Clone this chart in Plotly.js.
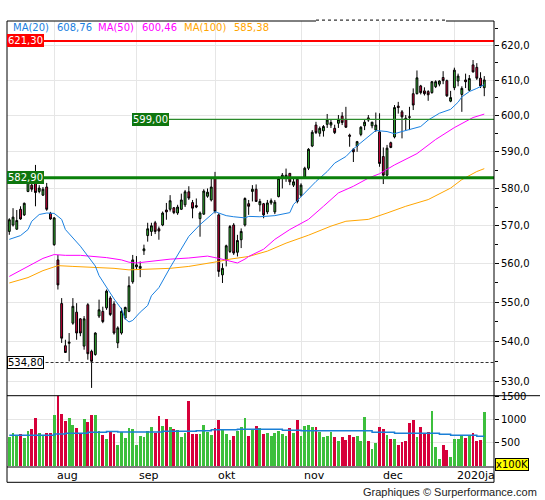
<!DOCTYPE html>
<html><head><meta charset="utf-8">
<script src="https://cdn.plot.ly/plotly-3.0.1.min.js"></script>
<style>html,body{margin:0;padding:0;background:#fff}#chart{width:545px;height:500px}</style>
</head><body><div id="chart"></div>
<script>
// ---- data (one entry per trading day) ----
const open = [568.5,570.2,569.1,574.4,572.9,579.2,580.9,581.8,579.2,578.2,580.4,573.3,565.0,561.0,549.7,539.0,539.6,544.7,547.5,545.8,
538.9,549.4,537.6,536.8,546.5,547.7,548.6,551.1,549.6,539.7,542.2,546.0,547.7,555.3,559.2,558.8,563.4,567.4,568.5,570.8,
569.2,570.2,574.2,574.4,574.8,573.4,574.4,575.6,579.1,576.2,575.4,571.9,573.1,577.9,576.9,582.7,572.9,557.1,561.0,563.2,
570.2,563.0,566.3,570.2,575.9,579.2,579.8,575.6,575.9,573.7,576.1,573.7,577.8,582.7,583.0,584.1,580.9,582.5,578.2,583.1,
585.5,591.6,597.4,595.1,595.8,597.6,597.4,596.5,597.9,599.9,599.0,594.6,590.7,591.6,594.8,597.2,599.4,597.2,596.0,595.5,
588.7,583.6,592.5,594.1,602.7,601.1,599.3,599.7,606.2,606.2,608.4,607.0,606.8,606.5,608.2,608.9,610.8,609.9,604.1,607.9,
609.8,606.0,610.1,607.2,614.4,613.7,610.6,607.9];
const high = [572.0,574.7,574.2,575.2,576.2,582.7,582.3,586.4,580.9,580.4,581.5,573.7,572.3,562.3,551.1,540.5,542.2,551.1,549.8,546.0,
546.5,549.8,538.0,542.4,550.7,548.9,553.3,551.6,550.3,543.9,548.6,548.9,556.7,562.3,562.0,560.6,565.0,570.8,570.8,571.3,
569.8,573.8,576.1,578.2,575.0,575.6,578.6,579.6,580.6,576.9,577.3,573.8,579.8,580.0,582.7,584.5,573.3,560.1,565.0,570.2,
570.7,567.6,569.3,577.6,576.9,580.9,581.1,577.2,576.1,576.9,577.3,576.9,583.2,584.2,585.4,584.2,582.7,582.7,581.4,585.9,
591.0,596.0,598.3,597.0,597.4,600.5,598.8,597.5,600.2,601.0,602.5,595.0,591.0,593.0,597.1,598.8,600.2,598.3,600.9,600.7,
591.2,591.9,592.8,603.0,603.9,601.6,600.2,602.5,607.7,612.8,608.7,608.0,607.2,609.8,610.0,610.0,612.6,610.2,607.0,613.6,
611.9,608.3,611.9,611.5,615.8,614.9,612.3,611.2];
const low = [567.6,569.8,568.9,571.6,572.6,579.0,579.1,575.2,578.7,578.0,574.0,571.6,564.7,553.3,539.7,537.2,535.1,544.3,540.5,541.4,
538.0,535.5,528.5,536.5,546.0,544.7,548.1,546.5,541.8,538.4,541.8,545.6,547.5,554.8,558.4,556.5,562.3,565.8,567.3,567.8,
566.3,569.9,571.6,573.8,573.1,572.9,574.2,575.0,576.9,572.0,574.7,567.1,572.9,577.5,576.5,573.3,556.6,555.0,559.3,562.8,
562.3,561.9,564.1,569.8,572.9,576.5,576.4,573.8,572.0,573.1,575.6,573.1,577.6,580.0,581.8,580.9,580.4,576.0,577.7,582.9,
585.0,591.3,594.9,594.2,594.2,596.6,596.6,594.9,596.6,597.4,596.6,591.4,587.2,590.0,594.3,596.0,598.3,596.5,595.5,585.9,
581.2,583.2,591.0,593.7,600.6,593.7,596.0,596.0,601.6,606.0,606.0,605.7,604.2,606.2,607.8,608.3,608.9,605.3,603.8,607.2,
608.3,601.1,607.8,606.9,612.2,610.1,607.8,605.5];
const close = [571.6,572.3,571.4,571.8,576.0,581.8,579.8,578.9,580.1,579.8,574.4,571.8,572.1,554.5,540.9,537.3,539.9,549.0,542.2,542.2,
545.8,537.0,535.1,542.2,548.1,545.1,552.9,546.9,542.2,543.5,547.7,548.7,554.3,561.0,559.7,559.3,563.9,569.2,570.0,568.5,
568.6,573.4,573.7,576.7,573.5,575.0,576.9,579.1,577.4,574.7,575.0,573.4,579.3,579.0,580.4,573.8,558.0,558.8,564.7,569.8,
562.8,566.1,568.5,577.3,575.2,579.8,576.5,576.5,572.9,576.1,576.7,576.3,582.7,583.6,583.6,581.8,581.8,576.5,580.9,585.5,
590.7,595.4,595.3,596.5,597.0,598.8,598.1,595.3,599.0,598.1,596.8,594.3,590.0,592.8,596.8,598.2,598.8,598.2,597.4,586.8,
583.6,591.0,591.2,602.3,602.3,599.7,599.0,599.6,603.0,610.7,606.5,606.2,605.9,609.6,609.6,609.8,609.9,605.6,605.1,612.9,
611.2,607.7,609.6,610.5,612.4,610.6,608.4,610.1];
// volume, in units of 100K
const volume = [630,717,667,696,609,761,804,1043,717,667,717,717,1109,1558,1130,978,1043,891,826,717,
1022,957,1109,1109,761,674,587,761,696,457,739,609,826,804,457,652,630,761,848,717,
1087,870,1022,848,804,783,630,717,1413,696,696,696,891,739,674,826,1000,783,696,565,
652,761,848,1043,652,783,870,826,696,717,652,717,761,696,652,826,717,1000,652,870,
891,848,848,739,630,652,739,630,543,630,565,674,630,652,543,1065,543,370,500,848,
804,674,587,587,457,522,543,935,1000,630,848,717,739,1196,413,152,457,348,196,587,
587,652,609,652,717,543,565,1169];
// moving averages read at sample days (day number, value)
const ma20Day = [1,4,6,7,9,11,13,15,16,18,20,22,24,25,27,29,31,32,33,34,36,38,39,41,44,47,49,52,54,56,57,59,61,64,65,68,72,76,77,80,83,86,88,91,93,95,97,99,102,104,106,108,111,113,116,119,121,122,124,126,128];
const ma20Val = [566.4,567.4,569.0,571.2,573.0,573.4,573.3,571.7,569.0,566.8,564.6,562.0,559.4,556.9,553.9,550.9,548.3,545.8,545.0,545.4,547.5,549.2,551.7,553.8,559.0,563.8,567.2,570.3,572.1,573.8,573.4,572.7,572.4,572.1,572.5,572.4,572.7,573.5,575.7,578.8,581.9,584.6,586.9,588.7,590.8,592.5,594.3,595.9,595.6,595.0,595.6,596.1,597.0,598.8,600.7,601.8,603.8,605.3,606.8,607.7,608.76];
const ma50Day = [1,4,7,10,13,16,20,24,27,31,33,35,40,44,49,54,57,60,62,64,65,69,72,76,81,85,89,93,97,100,104,110,115,120,125,128];
const ma50Val = [556.7,558.2,559.9,561.4,562.4,562.2,562.2,561.8,561.6,561.0,560.4,560.2,560.8,561.2,561.5,562.0,561.4,560.8,560.2,561.2,561.9,563.8,566.4,569.0,571.7,575.2,578.8,580.6,582.8,584.0,586.4,589.5,593.4,596.7,599.5,600.46];
const ma100Day = [1,6,10,14,18,24,29,33,38,44,49,54,57,60,63,65,70,75,81,87,91,97,102,107,113,119,122,126,128];
const ma100Val = [555.0,556.4,558.2,559.5,559.3,559.1,558.8,558.4,558.6,558.8,559.3,560.0,560.6,561.2,561.7,561.9,563.3,565.4,567.5,569.9,571.2,571.7,573.4,575.2,577.0,580.1,582.4,584.6,585.38];
const volMaDay = [1,13,16,22,27,30,42,51,55,62,74,79,98,104,116,119,126,128];
const volMaVal = [667,690,710,732,746,735,754,761,785,797,775,761,732,710,688,667,645,645];
// price levels
const levelHigh = 621.30;
const levelSupport = 582.90;
const levelPivot = 599.00;
const pivotStartDay = 34;
const levelLow = 534.80;
// axis ticks / labels
const monthDay = [13,35,56,79,100,120];
const monthLabels = ['aug','sep','okt','nov','dec','2020ja'];
const priceTicks = [530,540,550,560,570,580,590,600,610,620];
const priceMinor = [535,545,555,565,575,585,595,605,615,625];
const volTicks = [500,1000,1500];

// ---- build ----
const fmt = (v, d) => v.toFixed(d).replace('.', ',');
const days = close.map((_, i) => i + 1);
const isUp = close.map((c, i) => c >= open[i]);
const GREEN = '#3cbf3c', RED = '#d6003a';
const FONT = 'DejaVu Sans';
const XR = [0.385, 130.6];
const C20 = '#1a80e0', C50 = '#ff00ff', C100 = '#ffa500';

const traces = [
  {type:'candlestick', x:days, open:open, high:high, low:low, close:close, xaxis:'x', yaxis:'y',
   increasing:{line:{color:'#000', width:1}, fillcolor:'#33bb33'},
   decreasing:{line:{color:'#000', width:1}, fillcolor:'#d6003a'},
   whiskerwidth:0, hoverinfo:'skip'},
  {type:'scatter', mode:'lines', x:ma100Day, y:ma100Val, yaxis:'y', line:{color:C100, width:1}},
  {type:'scatter', mode:'lines', x:ma50Day, y:ma50Val, yaxis:'y', line:{color:C50, width:1}},
  {type:'scatter', mode:'lines', x:ma20Day, y:ma20Val, yaxis:'y', line:{color:C20, width:1}},
  {type:'scatter', mode:'lines', x:[0, 135], y:[levelHigh, levelHigh], yaxis:'y', line:{color:'#ff0000', width:2}},
  {type:'scatter', mode:'lines', x:[0, 135], y:[levelSupport, levelSupport], yaxis:'y', line:{color:'#0a800a', width:3}},
  {type:'scatter', mode:'lines', x:[pivotStartDay, 135], y:[levelPivot, levelPivot], yaxis:'y', line:{color:'#2a8a2a', width:1.2}},
  {type:'scatter', mode:'lines', x:[0, 135], y:[levelLow, levelLow], yaxis:'y', line:{color:'#333', width:1, dash:'3px,2px'}},
  {type:'bar', x:days, y:volume, yaxis:'y2', width:0.75,
   marker:{color:isUp.map(u => u ? GREEN : RED), line:{width:0}}},
  {type:'scatter', mode:'lines', x:volMaDay, y:volMaVal, yaxis:'y2', line:{color:'#1a7fd6', width:1.5, shape:'hv'}}
];

const pyPx = px => (467 - px) / 446;      // pixel row -> paper y
const pxPx = px => (px - 7) / 487;        // pixel col -> paper x

const ann = [];
// MA legend
const legend = [
  ['MA(20)', C20, 13.2], [fmt(ma20Val[ma20Val.length-1],2), C20, 57.3],
  ['MA(50)', C50, 98.3], [fmt(ma50Val[ma50Val.length-1],2), C50, 142.4],
  ['MA(100)', C100, 184], [fmt(ma100Val[ma100Val.length-1],2), C100, 233.7]
];
legend.forEach(([t, c, px]) => ann.push({xref:'paper', yref:'paper', x:pxPx(px), y:pyPx(27.8), xanchor:'left', yanchor:'middle',
  xshift:-2, text:t, showarrow:false, font:{family:FONT, size:10, color:c}}));
// level labels
const lvlLabel = (val, bg, fg, xref, x, border) => ({xref:xref, yref:'y', x:x, y:Math.log10(val), xanchor:'left', yanchor:'middle',
  text:fmt(val,2), showarrow:false, bgcolor:bg, bordercolor:border || bg, borderwidth:border ? 1 : 0, borderpad:1,
  font:{family:FONT, size:10, color:fg}});
ann.push(lvlLabel(levelHigh, '#ff0000', '#ffffff', 'paper', 0));
ann.push(lvlLabel(levelSupport, '#0e760e', '#ffffff', 'paper', 0));
ann.push(Object.assign(lvlLabel(levelPivot, '#0e760e', '#ffffff', 'x', pivotStartDay), {xshift:-1}));
ann.push(Object.assign(lvlLabel(levelLow, '#ffffff', '#000000', 'paper', 0, '#000000'), {borderpad:0}));
// month labels
monthDay.forEach((d, i) => ann.push({xref:'x', yref:'paper', x:d, y:pyPx(475), xanchor:'left', yanchor:'middle', xshift:1,
  text:monthLabels[i], showarrow:false, font:{family:FONT, size:11, color:'#000'}}));
// volume unit box
ann.push({xref:'paper', yref:'paper', x:pxPx(495), y:pyPx(464), xanchor:'left', yanchor:'middle', text:'x100K', showarrow:false,
  bgcolor:'#ffff00', bordercolor:'#000', borderwidth:1, borderpad:0, font:{family:FONT, size:10, color:'#000'}});
// credit
ann.push({xref:'paper', yref:'paper', x:pxPx(539), y:pyPx(492), xanchor:'right', yanchor:'middle',
  text:'Graphiques © Surperformance.com', showarrow:false, font:{family:'Liberation Sans', size:11, color:'#222'}});

const L = (x0, y0, x1, y1, extra) => Object.assign({type:'line', xref:'paper', yref:'paper', x0:x0, y0:y0, x1:x1, y1:y1,
  line:{color:'#000', width:1}}, extra || {});
const yb = pyPx(482.3);
const shapes = [
  L(0, yb, 0, 1), L(1, yb, 1, 1), L(0, yb, 1, yb), L(0, 0, 1, 0), L(0, pyPx(395.7), pxPx(540), pyPx(395.7)),
  L(0, 1, pxPx(316), 1), L(pxPx(316), 1.002, pxPx(446), 1.002, {line:{color:'#000', width:1, dash:'dot'}}), L(pxPx(446), 1, 1, 1)
];

const axisCommon = {showgrid:true, gridcolor:'#e6e6e6', gridwidth:1, zeroline:false, showline:false, fixedrange:true,
  ticks:'outside', ticklen:4, tickwidth:1, tickcolor:'#000', tickfont:{family:FONT, size:10, color:'#000'}};

const layout = {
  width:545, height:500, margin:{l:7, r:51, t:21, b:33, pad:0},
  paper_bgcolor:'#ffffff', plot_bgcolor:'#ffffff', showlegend:false, hovermode:false,
  font:{family:FONT, size:10, color:'#000'},
  xaxis:{domain:[0,1], anchor:'y2', range:XR, tickmode:'array', tickvals:monthDay, showticklabels:false, ticks:'',
    showgrid:true, gridcolor:'#e6e6e6', zeroline:false, showline:false, fixedrange:true, rangeslider:{visible:false}},
  yaxis:Object.assign({}, axisCommon, {domain:[0.16,1], anchor:'x', side:'right', type:'log',
    range:[Math.log10(526.6), Math.log10(627.1)], tickmode:'array', tickvals:priceTicks, ticktext:priceTicks.map(v => fmt(v,1)),
    minor:{tickmode:'array', tickvals:priceMinor, ticks:'outside', ticklen:3, tickcolor:'#000', showgrid:false}}),
  yaxis2:Object.assign({}, axisCommon, {domain:[0,0.16], anchor:'x', side:'right', range:[-21.6,1521.6],
    tickmode:'array', tickvals:volTicks, ticktext:volTicks.map(String)}),
  bargap:0, annotations:ann, shapes:shapes
};

Plotly.newPlot('chart', traces, layout, {staticPlot:true, displayModeBar:false});
</script></body></html>
